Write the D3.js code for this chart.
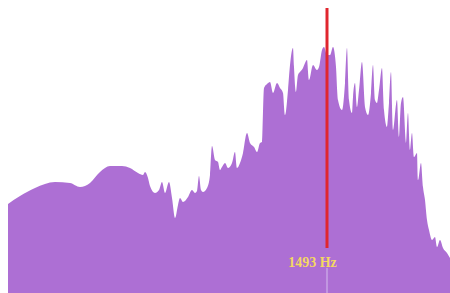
<!DOCTYPE html>
<html>
<head>
<meta charset="utf-8">
<script src="https://cdn.jsdelivr.net/npm/d3@7"></script>
<style>
  html, body { margin: 0; padding: 0; background: #fff; }
  svg { display: block; }
</style>
</head>
<body>
<div id="chart"></div>
<script>
// FFT bins (left to right) and their amplitude
const bins = [0,12,27,47,62,72,82,92,102,114,122,130,135,137,140,142,147,151,154,157,161,164,167,170,172,175,180,184,187,189,191,193,195,199,202,204,207,210,212,214,217,220,224,227,229,232,235,239,242,246,249,252,254,256,259,262,265,269,272,275,277,280,282,285,286,288,290,292,295,297,299,301,305,309,311,314,316,319,322,325,328,330,334,337,339,341,344,345,347,349,351,354,357,360,363,365,367,369,371,374,376,379,381,383,385,389,391,393,395,398,400,402,404,406,409,410,413,415,417,419,421,424,427,429,432,435,439,442];
const amps = [89,97,105,111,110,106,110,121,127,127,125,120,118,121,115,107,100,103,111,100,111,95,75,88,95,91,96,103,100,102,117,103,101,105,118,147,133,131,123,126,130,125,130,141,125,130,140,160,150,146,141,150,151,205,209,211,200,210,205,200,178,203,228,245,226,201,218,221,225,230,233,213,228,223,226,243,246,238,238,246,226,193,183,210,245,193,180,196,210,186,203,231,186,178,200,228,193,190,203,225,183,166,190,221,163,193,156,190,196,150,180,143,160,136,140,113,130,106,93,73,63,53,56,46,53,45,40,35];

// peak marker
const markerBin = 319;
const markerLabel = '1493 Hz';

const width = 450, height = 293;

let svg = d3.select('#chart').append('svg')
    .attr('width', width)
    .attr('height', height);

let x = d3.scaleLinear().domain([0, 442]).range([8, 450]);
let y = d3.scaleLinear().domain([0, 293]).range([height, 0]);

let data = bins.map(function(b, i) { return { bin: b, amp: amps[i] }; });

let area = d3.area()
    .curve(d3.curveMonotoneX)
    .x(function(d) { return x(d.bin); })
    .y0(y(0))
    .y1(function(d) { return y(d.amp); });

svg.append('path')
    .datum(data)
    .attr('d', area)
    .attr('fill', '#ad6fd4');

// faint line under the label
svg.append('line')
    .attr('x1', x(markerBin)).attr('x2', x(markerBin))
    .attr('y1', y(0)).attr('y2', y(25))
    .attr('stroke', '#c9a3e6')
    .attr('stroke-width', 1.5);

// red marker line
svg.append('line')
    .attr('x1', x(markerBin)).attr('x2', x(markerBin))
    .attr('y1', y(45)).attr('y2', y(285))
    .attr('stroke', '#e0262e')
    .attr('stroke-width', 3);

svg.append('text')
    .attr('x', x(markerBin) - 14.5)
    .attr('y', y(26))
    .attr('text-anchor', 'middle')
    .attr('fill', '#f4d862')
    .style('font-family', '"Liberation Serif", serif')
    .style('font-weight', 'bold')
    .style('font-size', '14px')
    .text(markerLabel);
</script>
</body>
</html>
